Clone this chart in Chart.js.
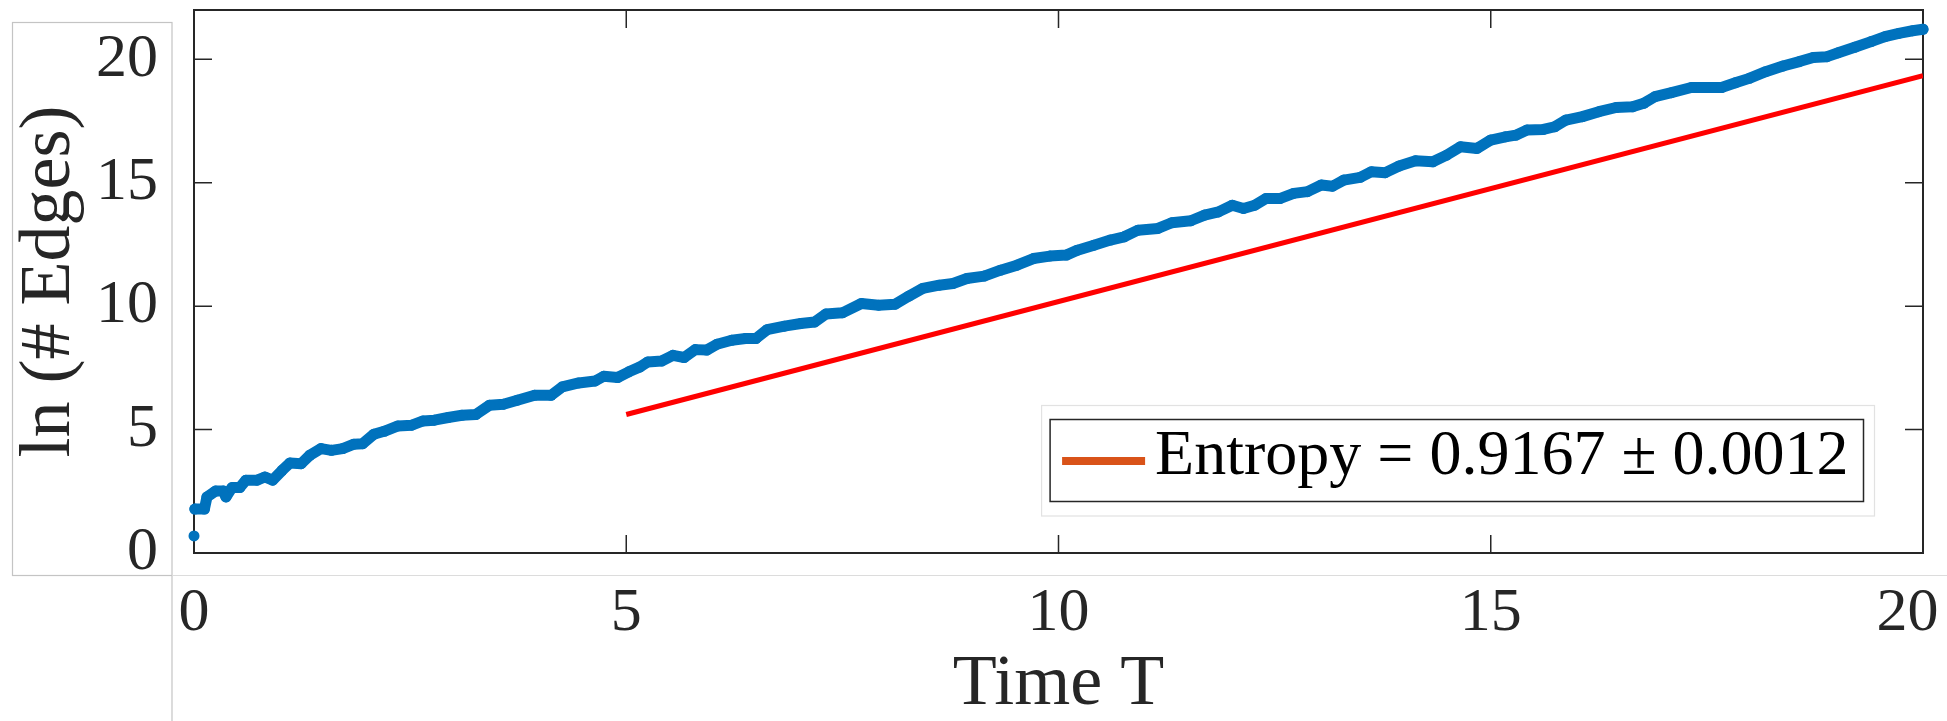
<!DOCTYPE html>
<html>
<head>
<meta charset="utf-8">
<script src="https://cdn.jsdelivr.net/npm/chart.js@4.4.1/dist/chart.umd.min.js"></script>
<style>
  html, body { margin: 0; padding: 0; background: #fff; }
</style>
</head>
<body>
<canvas id="Chart" width="1947" height="721"></canvas>
<script>
// blue dots: ln(# edges) over time T
const timeT = [0, 0.01, 0.12, 0.15, 0.25, 0.34, 0.37, 0.44, 0.53, 0.6, 0.73, 0.82, 0.91, 1.02, 1.11, 1.24, 1.34, 1.47, 1.59, 1.72,
  1.85, 1.95, 2.08, 2.2, 2.36, 2.52, 2.65, 2.78, 2.94, 3.1, 3.26, 3.42, 3.58, 3.74, 3.94, 4.13, 4.26, 4.45, 4.64, 4.74,
  4.9, 5.03, 5.16, 5.25, 5.41, 5.54, 5.67, 5.8, 5.93, 6.05, 6.22, 6.38, 6.5, 6.63, 6.83, 7.02, 7.18, 7.31, 7.5, 7.72,
  7.92, 8.11, 8.27, 8.43, 8.62, 8.78, 8.94, 9.14, 9.33, 9.52, 9.71, 9.9, 10.09, 10.22, 10.41, 10.6, 10.76, 10.92, 11.15, 11.31,
  11.53, 11.69, 11.85, 12.01, 12.14, 12.27, 12.4, 12.56, 12.72, 12.88, 13.04, 13.17, 13.3, 13.49, 13.62, 13.78, 13.94, 14.13, 14.33, 14.49,
  14.65, 14.84, 15.0, 15.17, 15.29, 15.42, 15.61, 15.74, 15.87, 16.06, 16.25, 16.45, 16.64, 16.77, 16.9, 17.09, 17.32, 17.48, 17.67, 17.83,
  17.99, 18.18, 18.38, 18.57, 18.73, 18.89, 19.02, 19.21, 19.4, 19.56, 19.72, 19.88, 20.0];
const lnEdges = [0.69, 1.78, 1.78, 2.27, 2.51, 2.51, 2.27, 2.65, 2.65, 2.95, 2.95, 3.08, 2.95, 3.35, 3.65, 3.62, 3.96, 4.23, 4.16, 4.23,
  4.41, 4.43, 4.81, 4.93, 5.15, 5.18, 5.35, 5.38, 5.49, 5.58, 5.61, 5.99, 6.03, 6.19, 6.39, 6.39, 6.73, 6.89, 6.97, 7.16,
  7.11, 7.34, 7.54, 7.74, 7.78, 8.01, 7.92, 8.24, 8.22, 8.46, 8.62, 8.69, 8.69, 9.05, 9.19, 9.30, 9.36, 9.68, 9.73, 10.11,
  10.04, 10.08, 10.41, 10.72, 10.85, 10.92, 11.12, 11.22, 11.46, 11.66, 11.93, 12.03, 12.07, 12.27, 12.47, 12.68, 12.81, 13.08, 13.15, 13.38,
  13.46, 13.69, 13.82, 14.09, 13.96, 14.09, 14.36, 14.36, 14.57, 14.64, 14.91, 14.86, 15.11, 15.22, 15.45, 15.41, 15.68, 15.89, 15.85, 16.12,
  16.46, 16.39, 16.73, 16.86, 16.93, 17.14, 17.16, 17.27, 17.54, 17.68, 17.88, 18.05, 18.08, 18.22, 18.49, 18.65, 18.86, 18.86, 18.86, 19.05,
  19.23, 19.5, 19.73, 19.91, 20.08, 20.11, 20.27, 20.49, 20.72, 20.92, 21.05, 21.16, 21.22];

// red fit line
const fitT = [5, 20];
const fitLn = [5.61, 19.34];
const fitLabel = 'Entropy = 0.9167 \u00b1 0.0012';

const xTicks = [0, 5, 10, 15, 20];
const yTicks = [0, 5, 10, 15, 20];

const serif = "'Liberation Serif', 'DejaVu Serif', serif";
const ink = '#262626';

// matlab style box with inward ticks on all four sides
const axesBox = {
  id: 'axesBox',
  beforeDatasetsDraw(chart) {
    const {ctx, chartArea: a, scales: {x, y}} = chart;
    ctx.save();
    ctx.strokeStyle = ink;
    ctx.lineWidth = 1.5;
    ctx.beginPath();
    x.ticks.forEach(t => {
      const px = x.getPixelForValue(t.value);
      ctx.moveTo(px, a.bottom); ctx.lineTo(px, a.bottom - 18);
      ctx.moveTo(px, a.top); ctx.lineTo(px, a.top + 18);
    });
    y.ticks.forEach(t => {
      const py = y.getPixelForValue(t.value);
      ctx.moveTo(a.left, py); ctx.lineTo(a.left + 18, py);
      ctx.moveTo(a.right, py); ctx.lineTo(a.right - 18, py);
    });
    ctx.stroke();
    ctx.lineWidth = 2;
    ctx.strokeRect(a.left, a.top, a.right - a.left, a.bottom - a.top);
    ctx.restore();
  },
  afterDraw(chart) {
    // faint export frames around the labels
    const {ctx, chartArea: a, width, height} = chart;
    const bx = a.left - 22, by = a.bottom + 22.5;
    ctx.save();
    ctx.lineWidth = 1.2;
    ctx.strokeStyle = '#c4c4c4';
    ctx.strokeRect(12.5, a.top + 12.5, bx - 12.5, by - a.top - 12.5);
    ctx.beginPath();
    ctx.moveTo(bx, by); ctx.lineTo(bx, height);
    ctx.stroke();
    ctx.strokeStyle = '#dcdcdc';
    ctx.beginPath();
    ctx.moveTo(bx, by); ctx.lineTo(width, by);
    ctx.stroke();
    ctx.restore();
  }
};

// legend box at lower right of the axes
const fitLegend = {
  id: 'fitLegend',
  afterDraw(chart) {
    const {ctx, chartArea: a} = chart;
    const label = chart.data.datasets[1].label;
    ctx.save();
    ctx.font = '64px ' + serif;
    const tw = ctx.measureText(label).width;
    const w = 12 + 83 + 10 + tw + 15, h = 82;
    const right = a.right - 59.5, bottom = a.bottom - 51.5;
    const left = right - w, top = bottom - h;
    ctx.fillStyle = '#fff';
    ctx.fillRect(left, top, w, h);
    ctx.strokeStyle = '#e2e2e2';
    ctx.lineWidth = 1.2;
    ctx.strokeRect(left - 8.5, top - 14, w + 19.5, h + 28.5);
    ctx.strokeStyle = ink;
    ctx.lineWidth = 1.5;
    ctx.strokeRect(left, top, w, h);
    ctx.strokeStyle = '#D95319';
    ctx.lineWidth = 8;
    ctx.beginPath();
    ctx.moveTo(left + 12, top + 41.5);
    ctx.lineTo(left + 95, top + 41.5);
    ctx.stroke();
    ctx.fillStyle = '#000';
    ctx.textBaseline = 'alphabetic';
    ctx.fillText(label, left + 105, top + 54);
    ctx.restore();
  }
};

const ctx = document.getElementById('Chart').getContext('2d');
const myChart = new Chart(ctx, {
  type: 'line',
  data: {
    datasets: [{
      label: 'ln(# Edges)',
      data: timeT.map((t, i) => ({x: t, y: lnEdges[i]})),
      borderColor: '#0072BD',
      backgroundColor: '#0072BD',
      borderWidth: 11,
      borderCapStyle: 'round',
      borderJoinStyle: 'round',
      pointRadius: 5.5,
      pointBorderWidth: 0,
      pointBackgroundColor: '#0072BD',
      tension: 0,
      clip: false,
      segment: {
        borderColor: c => c.p0DataIndex === 0 ? 'rgba(0,0,0,0)' : undefined
      }
    }, {
      label: fitLabel,
      data: fitT.map((t, i) => ({x: t, y: fitLn[i]})),
      borderColor: '#FF0000',
      borderWidth: 5,
      pointRadius: 0,
      tension: 0
    }]
  },
  options: {
    responsive: false,
    animation: false,
    devicePixelRatio: 1,
    layout: {padding: {top: 10, right: 24, bottom: 0, left: 0}},
    plugins: {legend: {display: false}, tooltip: {enabled: false}},
    scales: {
      x: {
        type: 'linear',
        min: 0, max: 20,
        grid: {display: false},
        border: {display: false},
        afterBuildTicks: s => { s.ticks = xTicks.map(v => ({value: v})); },
        afterFit: s => { s.height = 168; s.paddingLeft = 0; s.paddingRight = 0; },
        ticks: {
          color: ink,
          padding: 22,
          maxRotation: 0,
          font: {family: serif, size: 62, lineHeight: 1},
          // last label is nudged left so it stays inside the figure, as in the original
          callback: v => v === xTicks[xTicks.length - 1] ? String(v) + '\u2002' : String(v)
        },
        title: {
          display: true,
          text: 'Time T',
          color: ink,
          padding: {top: 0, bottom: 0},
          font: {family: serif, size: 72, lineHeight: 1}
        }
      },
      y: {
        type: 'linear',
        min: 0, max: 22,
        grid: {display: false},
        border: {display: false},
        afterBuildTicks: s => { s.ticks = yTicks.map(v => ({value: v})); },
        afterFit: s => { s.width = 194; s.paddingTop = 0; s.paddingBottom = 0; },
        ticks: {
          color: ink,
          padding: 28,
          font: {family: serif, size: 62, lineHeight: 1},
          callback: v => String(v)
        },
        title: {
          display: true,
          text: 'ln (# Edges)',
          color: ink,
          padding: {top: 14, bottom: 0},
          font: {family: serif, size: 72, lineHeight: 1}
        }
      }
    }
  },
  plugins: [axesBox, fitLegend]
});
</script>
</body>
</html>
